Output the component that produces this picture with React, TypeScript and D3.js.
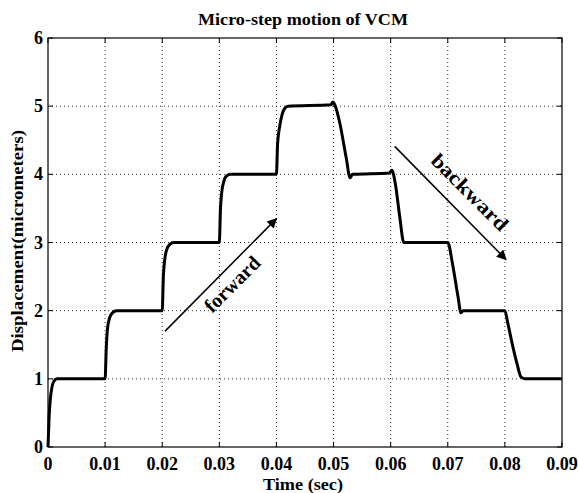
import React from "react";
import * as d3 from "d3";

// Measured VCM displacement trace (time in seconds, displacement in micrometers)
const timeSec = [
  0, 0.0002, 0.0004, 0.0007, 0.001, 0.0016,
  0.01, 0.0102, 0.0104, 0.0108, 0.0113, 0.012,
  0.02, 0.0202, 0.0204, 0.0208, 0.0213, 0.022,
  0.03, 0.0302, 0.0304, 0.0308, 0.0313, 0.032,
  0.04, 0.0402, 0.0406, 0.041, 0.0414, 0.042,
  0.0495, 0.0499, 0.0503, 0.0511, 0.0522, 0.0529, 0.0533,
  0.0598, 0.0602, 0.0608, 0.0616, 0.0623,
  0.07, 0.0708, 0.0718, 0.0723, 0.0727,
  0.08, 0.0805, 0.0814, 0.0821, 0.0828, 0.0835,
  0.09,
];
const displacement = [
  0, 0.45, 0.7, 0.88, 0.96, 1.0,
  1.0, 1.45, 1.72, 1.9, 1.97, 2.0,
  2.0, 2.5, 2.72, 2.9, 2.97, 3.0,
  3.0, 3.5, 3.72, 3.9, 3.98, 4.0,
  4.0, 4.45, 4.72, 4.88, 4.96, 5.0,
  5.02, 5.06, 5.0, 4.75, 4.25, 3.95, 4.0,
  4.02, 4.06, 3.87, 3.37, 3.0,
  3.0, 2.7, 2.2, 1.97, 2.0,
  2.0, 1.82, 1.47, 1.23, 1.03, 1.0,
  1.0,
];

const xTicks = [0, 0.01, 0.02, 0.03, 0.04, 0.05, 0.06, 0.07, 0.08, 0.09];
const xTickLabels = ["0", "0.01", "0.02", "0.03", "0.04", "0.05", "0.06", "0.07", "0.08", "0.09"];
const yTicks = [0, 1, 2, 3, 4, 5, 6];

// Direction annotations: arrow start/end in data units
const forwardArrow = { from: [0.0205, 1.7], to: [0.0400, 3.35] };
const backwardArrow = { from: [0.0607, 4.41], to: [0.0802, 2.75] };

const W = 578;
const H = 493;
const M = { left: 48, top: 38, right: 562, bottom: 447 };
const FONT = "'Liberation Serif', 'Times New Roman', serif";

export default function App() {
  const x = d3.scaleLinear().domain([0, 0.09]).range([M.left, M.right]);
  const y = d3.scaleLinear().domain([0, 6]).range([M.bottom, M.top]);

  const pts: [number, number][] = timeSec.map((t, i) => [t, displacement[i]]);
  const line = d3
    .line<[number, number]>()
    .x((d) => x(d[0]))
    .y((d) => y(d[1]))
    .curve(d3.curveMonotoneX);

  const tickLen = 5;

  const arrow = (a: { from: number[]; to: number[] }) => ({
    x1: x(a.from[0]),
    y1: y(a.from[1]),
    x2: x(a.to[0]),
    y2: y(a.to[1]),
  });
  const fa = arrow(forwardArrow);
  const ba = arrow(backwardArrow);

  return (
    <svg width={W} height={H} style={{ position: "absolute", left: 0, top: 0, background: "#fff" }}>
      <defs>
        <marker id="head" viewBox="0 0 10 10" refX="9" refY="5" markerWidth="14" markerHeight="10" markerUnits="userSpaceOnUse" orient="auto">
          <path d="M0,0 L10,5 L0,10 z" fill="#000" />
        </marker>
      </defs>
      <rect x={0} y={0} width={W} height={H} fill="#fff" />

      {/* grid */}
      {xTicks.slice(1, -1).map((t) => (
        <line key={"gx" + t} x1={x(t)} x2={x(t)} y1={M.top} y2={M.bottom} stroke="#333" strokeWidth={1} strokeDasharray="1,3" />
      ))}
      {yTicks.slice(1, -1).map((v) => (
        <line key={"gy" + v} x1={M.left} x2={M.right} y1={y(v)} y2={y(v)} stroke="#333" strokeWidth={1} strokeDasharray="1,3" />
      ))}

      {/* frame */}
      <rect x={M.left} y={M.top} width={M.right - M.left} height={M.bottom - M.top} fill="none" stroke="#000" strokeWidth={1.2} />

      {/* inner ticks */}
      {xTicks.map((t) => (
        <g key={"tx" + t}>
          <line x1={x(t)} x2={x(t)} y1={M.bottom} y2={M.bottom - tickLen} stroke="#000" />
          <line x1={x(t)} x2={x(t)} y1={M.top} y2={M.top + tickLen} stroke="#000" />
        </g>
      ))}
      {yTicks.map((v) => (
        <g key={"ty" + v}>
          <line x1={M.left} x2={M.left + tickLen} y1={y(v)} y2={y(v)} stroke="#000" />
          <line x1={M.right} x2={M.right - tickLen} y1={y(v)} y2={y(v)} stroke="#000" />
        </g>
      ))}

      {/* trace */}
      <path d={line(pts) || ""} fill="none" stroke="#000" strokeWidth={3} strokeLinejoin="round" />

      {/* tick labels */}
      {xTicks.map((t, i) => (
        <text key={"lx" + t} x={x(t)} y={470} textAnchor="middle" fontFamily={FONT} fontWeight="bold" fontSize={18}>
          {xTickLabels[i]}
        </text>
      ))}
      {yTicks.map((v) => (
        <text key={"ly" + v} x={43} y={y(v) + 6} textAnchor="end" fontFamily={FONT} fontWeight="bold" fontSize={18}>
          {v}
        </text>
      ))}

      {/* titles */}
      <text x={303} y={25} textAnchor="middle" fontFamily={FONT} fontWeight="bold" fontSize={17} textLength={210} lengthAdjust="spacingAndGlyphs">
        Micro-step motion of VCM
      </text>
      <text x={303} y={490} textAnchor="middle" fontFamily={FONT} fontWeight="bold" fontSize={16} textLength={80} lengthAdjust="spacingAndGlyphs">
        Time (sec)
      </text>
      <text transform={`translate(23,241) rotate(-90)`} textAnchor="middle" fontFamily={FONT} fontWeight="bold" fontSize={17} textLength={222} lengthAdjust="spacingAndGlyphs">
        Displacement(micrometers)
      </text>

      {/* annotations */}
      <line x1={fa.x1} y1={fa.y1} x2={fa.x2} y2={fa.y2} stroke="#000" strokeWidth={1.5} markerEnd="url(#head)" />
      <text transform={`translate(237,289) rotate(-45)`} textAnchor="middle" fontFamily={FONT} fontWeight="bold" fontSize={20}>
        forward
      </text>
      <line x1={ba.x1} y1={ba.y1} x2={ba.x2} y2={ba.y2} stroke="#000" strokeWidth={1.5} markerEnd="url(#head)" />
      <text transform={`translate(465,197) rotate(45)`} textAnchor="middle" fontFamily={FONT} fontWeight="bold" fontSize={20} textLength={100} lengthAdjust="spacingAndGlyphs">
        backward
      </text>
    </svg>
  );
}
